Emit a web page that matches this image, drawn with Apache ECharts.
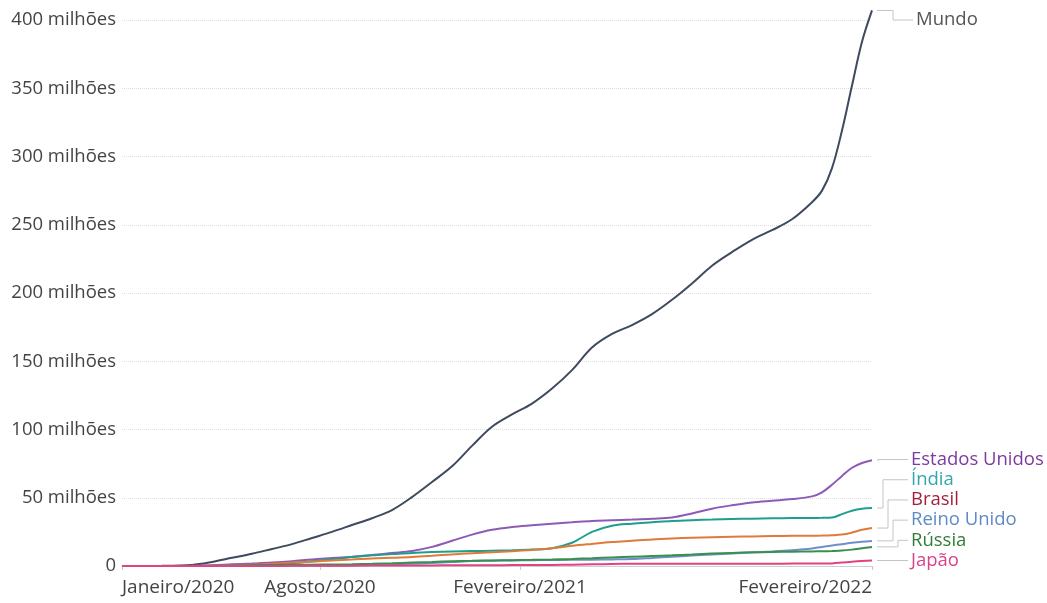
<!DOCTYPE html>
<html>
<head>
<meta charset="utf-8">
<script src="https://cdn.jsdelivr.net/npm/echarts@6/dist/echarts.min.js"></script>
<style>
html,body{margin:0;padding:0;background:#fff;}
#chart{width:1047px;height:603px;}
</style>
</head>
<body>
<div id="chart"></div>
<script>
// Dias desde o início da série (eixo x)
const dias = [0,40,70,90,110,130,150,170,190,210,230,250,270,290,310,330,350,370,390,410,430,450,470,490,510,530,550,570,590,610,630,650,670,690,700,710,720,730,740,750];
// Casos acumulados, em milhões
const mundo = [0,0.1,0.8,3,6,9,12.5,16,20.5,25,30,35,41,50.5,61.5,73,88,102,111,119,130,143.5,160,170,176.5,184.5,195,207,220,230,239,246,254,266.5,275,291.5,319,352,384,407];
const estadosUnidos = [0,0,0.1,0.5,1.2,1.8,2.5,3.5,4.8,5.8,6.8,8,9.5,11,14,18.5,23,26.5,28.5,29.8,31,32,33,33.5,34,34.6,35.5,38.5,42,44.5,46.5,47.8,49,51,54,59.5,66,72,75.5,77.5];
const india = [0,0,0,0,0.1,0.5,1.2,2,3.5,5,6.5,7.8,8.7,9.6,10.2,10.6,10.9,11.2,11.5,12,13,17,25,29.5,31,32,33,33.6,34,34.4,34.7,34.9,35.1,35.2,35.3,35.5,38,40.5,42,42.5];
const brasil = [0,0,0,0.1,0.4,1,1.7,2.5,3.2,4,4.7,5.5,6,6.6,7.5,8.5,9.3,10,10.8,11.8,13,14.8,16.2,17.5,18.5,19.5,20.2,20.7,21.1,21.4,21.7,21.9,22.1,22.2,22.3,22.5,23,24.5,26.5,27.8];
const reinoUnido = [0,0,0,0.1,0.2,0.28,0.3,0.32,0.35,0.4,0.5,0.7,1.2,1.6,2.2,2.9,3.6,3.9,4.1,4.3,4.4,4.5,4.6,4.8,5.1,5.9,6.8,7.6,8.4,9.2,9.9,10.6,11.5,12.8,14,15,16,17,17.8,18.4];
const russia = [0,0,0,0.1,0.3,0.6,0.8,0.9,1,1.1,1.3,1.6,2,2.5,3,3.5,3.8,4.1,4.3,4.5,4.8,5.2,5.7,6.3,6.8,7.3,7.8,8.4,9.1,9.6,10,10.3,10.5,10.7,10.8,11,11.3,12,13,14];
const japao = [0,0,0,0.01,0.02,0.03,0.05,0.1,0.15,0.2,0.25,0.3,0.35,0.4,0.45,0.5,0.55,0.6,0.65,0.7,0.8,0.9,1.2,1.5,1.6,1.7,1.72,1.73,1.73,1.73,1.73,1.73,1.74,1.75,1.8,1.9,2.5,3.2,3.7,4.0];

const nomes = ['Mundo','Estados Unidos','Índia','Brasil','Reino Unido','Rússia','Japão'];
const valores = [mundo, estadosUnidos, india, brasil, reinoUnido, russia, japao];

// Rótulos do eixo x
const xTickDias = [0, 198, 398, 750];
const xTickRotulos = ['Janeiro/2020', 'Agosto/2020', 'Fevereiro/2021', 'Fevereiro/2022'];
// Rótulos do eixo y (milhões)
const yTicks = [0, 50, 100, 150, 200, 250, 300, 350, 400];

const corLinha = ['#3e4a5d', '#8d5bb6', '#1f9e8e', '#e07a3a', '#6f8fc8', '#3a8f4e', '#e0437f'];
const corRotulo = ['#555555', '#7d3aa0', '#2fa7ad', '#a31f3c', '#5f8ac6', '#2f7d37', '#d8428a'];
const FONT = '"Open Sans", "Noto Sans", sans-serif';

const chart = echarts.init(document.getElementById('chart'), null, {renderer: 'canvas'});

const lineSeries = nomes.map((n, i) => ({
  name: n,
  type: 'line',
  data: dias.map((d, k) => [d, valores[i][k]]),
  smooth: 0.35,
  showSymbol: false,
  clip: false,
  lineStyle: {width: 2, color: corLinha[i]},
  itemStyle: {color: corLinha[i]},
  z: 2 + i
}));

const ultimoDia = dias[dias.length - 1];

const labelSeries = {
  type: 'custom',
  clip: false,
  silent: true,
  z: 20,
  data: nomes.map((n, i) => [ultimoDia, valores[i][valores[i].length - 1], i]),
  renderItem: function (params, api) {
    const i = params.dataIndex;
    const top = api.coord([0, yTicks[yTicks.length - 1]])[1];
    const ends = valores.map(v => api.coord([ultimoDia, v[v.length - 1]]));
    const labelY = new Array(nomes.length);
    labelY[0] = Math.max(ends[0][1], top);
    const order = [];
    for (let k = 1; k < nomes.length; k++) order.push(k);
    order.sort((a, b) => ends[b][1] - ends[a][1]);
    let prev = Infinity;
    order.forEach(k => {
      const y = Math.min(ends[k][1], prev - 20.2);
      labelY[k] = y;
      prev = y;
    });
    const ex = ends[i][0];
    const ey = ends[i][1];
    const ly = labelY[i];
    const elbow = i === 0 ? ex + 21 : ex + 6 + 5 * (i - 1);
    const textX = i === 0 ? ex + 44 : ex + 39;
    const lineEnd = textX - 3;
    return {
      type: 'group',
      children: [
        {
          type: 'polyline',
          shape: {points: [[ex + 5, ey], [elbow, ey], [elbow, ly], [lineEnd, ly]]},
          style: {stroke: '#c4c4c4', lineWidth: 1, fill: null}
        },
        {
          type: 'text',
          style: {
            text: nomes[i], x: textX, y: ly,
            fill: corRotulo[i], fontSize: 18.5, fontFamily: FONT,
            align: 'left', verticalAlign: 'middle'
          }
        }
      ]
    };
  }
};

chart.setOption({
  backgroundColor: '#ffffff',
  animation: false,
  grid: {left: 122, right: 175, top: 20, bottom: 37, containLabel: false},
  xAxis: {
    type: 'value',
    min: 0,
    max: ultimoDia,
    splitLine: {show: false},
    axisLine: {show: true, lineStyle: {color: '#cfcfcf'}},
    axisTick: {show: true, customValues: xTickDias, length: 4, lineStyle: {color: '#c8c8c8'}},
    axisLabel: {
      customValues: xTickDias,
      formatter: v => { const k = xTickDias.indexOf(v); return k >= 0 ? xTickRotulos[k] : ''; },
      alignMinLabel: 'left',
      alignMaxLabel: 'right',
      color: '#444', fontSize: 19, fontFamily: FONT, margin: 12
    }
  },
  yAxis: {
    type: 'value',
    min: 0,
    max: 400,
    interval: 50,
    axisLine: {show: false},
    axisTick: {show: false},
    splitLine: {show: true, lineStyle: {color: '#dedede', type: 'dotted', width: 1}},
    axisLabel: {
      formatter: v => v === 0 ? '0' : v + ' milhões',
      color: '#444', fontSize: 18.5, fontFamily: FONT, margin: 6
    }
  },
  series: lineSeries.concat([labelSeries])
});
</script>
</body>
</html>
